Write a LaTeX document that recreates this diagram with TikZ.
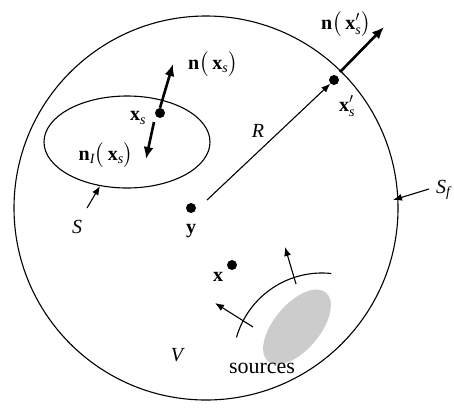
\documentclass[tikz,border=0pt]{standalone}
\usepackage{amsmath}
\usepackage{fontspec}
\setmainfont{Liberation Serif}
\usetikzlibrary{arrows.meta}
\newcommand{\sx}{{\textit{s}}}
\begin{document}
\begin{tikzpicture}[x=1pt,y=-1pt,font=\fontsize{20}{24}\selectfont,
  thinline/.style={line width=1.1pt},
  boldarrow/.style={line width=2.6pt,-{Latex[length=12pt,width=10pt]}},
  thinarrow/.style={line width=1.1pt,-{Latex[length=9pt,width=7pt]}},
  dot/.style={circle,fill=black,inner sep=0pt,minimum size=10pt},
  lbl/.style={inner sep=0pt}]
\useasboundingbox (0,0) rectangle (454,410);
% outer sphere
\coordinate (C) at (206,208);
\draw[thinline] (C) circle (192pt);
% inner surface S
\coordinate (E) at (127,142);
\draw[thinline] (E) ellipse [x radius=83pt, y radius=46pt];
% sources
\coordinate (G) at (297,327);
\fill[black!20, rotate around={50:(G)}] (G) ellipse [x radius=45pt, y radius=23pt];
% wavefront arc
\coordinate (A) at (322,362);
\draw[thinline] ([shift={(164:89pt)}]A) arc[start angle=164, end angle=84, radius=89pt];
\coordinate (w1a) at (253,327); \coordinate (w1b) at (215,303);
\coordinate (w2a) at (296,284); \coordinate (w2b) at (285,247);
\draw[thinarrow] (w1a) -- (w1b);
\draw[thinarrow] (w2a) -- (w2b);
% points
\node[dot] (xs) at (160,113) {};
\node[dot] (xsp) at (334,80) {};
\node[dot] (y) at (191,208) {};
\node[dot] (x) at (232,265) {};
% normals at xs
\coordinate (nxs) at (173,64);
\coordinate (nIs) at (146,159);
\draw[boldarrow] (xs.north) -- (nxs);
\draw[boldarrow] (154,122) -- (nIs);
% R
\draw[thinarrow] (207,200) -- (xsp.south west);
\node[lbl] (R) at (258,131) {\textit{R}};
% normal at x's
\coordinate (nxsp0) at (340,72);
\coordinate (nxsp) at (384,27);
\draw[boldarrow] (nxsp0) -- (nxsp);
% S arrow
\coordinate (Sa) at (87,208); \coordinate (Sb) at (100,186);
\draw[thinarrow] (Sa) -- (Sb);
\node[lbl] (S) at (77,227) {\textit{S}};
% Sf arrow
\coordinate (Sfa) at (429,189); \coordinate (Sfb) at (393,200);
\draw[thinarrow] (Sfa) -- (Sfb);
\node[lbl,anchor=west] (Sf) at (436,190) {\textit{S}\textsubscript{\textit{f}}};
% labels
\node[lbl] (Lnxs) at (213,64) {$\textbf{n}\bigl(\,\textbf{x}_\sx\bigr)$};
\node[lbl] (Lxs) at (138,118) {$\textbf{x}_\sx$};
\node[lbl] (LnI) at (106,155) {$\textbf{n}_{\textit{I}}\bigl(\,\textbf{x}_\sx\bigr)$};
\node[lbl] (Lnxsp) at (346,24) {$\textbf{n}\bigl(\,\textbf{x}'_\sx\bigr)$};
\node[lbl] (Lxsp) at (347,106) {$\textbf{x}'_\sx$};
\node[lbl] (Ly) at (191,231) {\textbf{y}};
\node[lbl] (Lx) at (218,277) {\textbf{x}};
\node[lbl] (V) at (178,355) {\textit{V}};
\node[lbl] (src) at (262,368) {\fontsize{22}{26}\selectfont sources};
\end{tikzpicture}
\end{document}
